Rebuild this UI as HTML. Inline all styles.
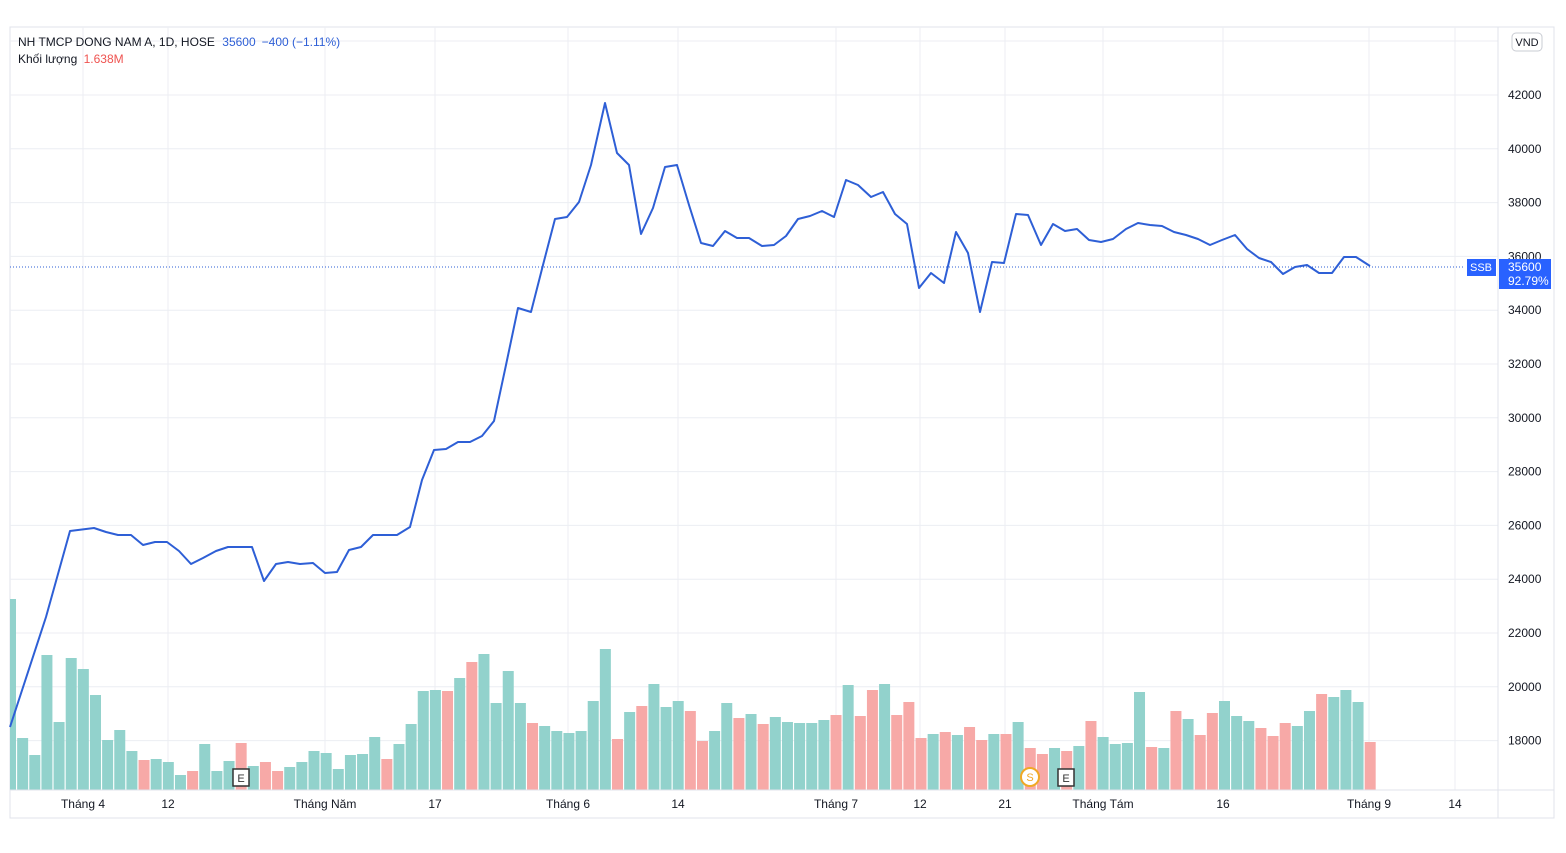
<!DOCTYPE html>
<html><head><meta charset="utf-8"><style>
html,body{margin:0;padding:0;background:#fff;width:1566px;height:853px;overflow:hidden}
svg{display:block}
text{font-family:"Liberation Sans",sans-serif}
</style></head><body>
<svg id="s" width="1566" height="853" xmlns="http://www.w3.org/2000/svg">
<rect x="10" y="27" width="1544" height="791" fill="#fff" stroke="#e0e3eb"/>
<g id="grid" stroke="#eceef3" stroke-width="1"></g>
<g id="vol"></g>
<line x1="10" y1="267" x2="1465" y2="267" stroke="#2e5fd6" stroke-dasharray="1,2" stroke-width="1"/>
<polyline id="ln" fill="none" stroke="#2e5fd6" stroke-width="2" stroke-linejoin="round"/>
<line x1="10" y1="790" x2="1554" y2="790" stroke="#e0e3eb"/>
<line x1="1498" y1="27" x2="1498" y2="818" stroke="#e0e3eb"/>
<g id="ylab" font-size="12" fill="#131722"></g>
<g id="xlab" font-size="12" fill="#131722" text-anchor="middle"></g>
<rect x="1512" y="33" width="30" height="18" rx="4" fill="#fff" stroke="#c9ccd3"/>
<text x="1527" y="46" font-size="11" text-anchor="middle" fill="#131722">VND</text>
<rect x="1467" y="259" width="29" height="17" fill="#2962ff"/>
<text x="1481" y="271" font-size="11" text-anchor="middle" fill="#fff">SSB</text>
<rect x="1499" y="259" width="52" height="30" fill="#2962ff"/>
<text x="1508" y="271" font-size="12" fill="#fff">35600</text>
<text x="1508" y="285" font-size="12" fill="#fff">92.79%</text>
<text x="18" y="46" font-size="12" fill="#131722">NH TMCP DONG NAM A, 1D, HOSE <tspan fill="#2e5fd6" dx="4">35600</tspan><tspan fill="#2e5fd6" dx="6">−400 (−1.11%)</tspan></text>
<text x="18" y="63" font-size="12" fill="#131722">Khối lượng <tspan fill="#ef5350" dx="3">1.638M</tspan></text>
<rect x="233" y="769" width="16" height="17" fill="#fff" stroke="#333" stroke-width="1.5"/>
<text x="241" y="782" font-size="11" text-anchor="middle" fill="#333">E</text>
<rect x="1058" y="769" width="16" height="17" fill="#fff" stroke="#333" stroke-width="1.5"/>
<text x="1066" y="782" font-size="11" text-anchor="middle" fill="#333">E</text>
<circle cx="1030" cy="777" r="9" fill="#fff" stroke="#f0a825" stroke-width="2"/>
<text x="1030" y="781" font-size="11" text-anchor="middle" fill="#f0a825">S</text>
</svg>
<script>
const NS="http://www.w3.org/2000/svg";
function el(p,t,a,txt){const e=document.createElementNS(NS,t);for(const k in a)e.setAttribute(k,a[k]);if(txt)e.textContent=txt;document.getElementById(p).appendChild(e);}
const Y=p=>95+(42000-p)*0.0269;
for(let p=18000;p<=42000;p+=2000){el("grid","line",{x1:10,x2:1498,y1:Y(p),y2:Y(p)});el("ylab","text",{x:1508,y:Y(p)+4},String(p));}
el("grid","line",{x1:10,x2:1498,y1:41,y2:41});
const xs=[[83,"Tháng 4"],[168,"12"],[325,"Tháng Năm"],[435,"17"],[568,"Tháng 6"],[678,"14"],[836,"Tháng 7"],[920,"12"],[1005,"21"],[1103,"Tháng Tám"],[1223,"16"],[1369,"Tháng 9"],[1455,"14"]];
xs.forEach(([x,t])=>{el("grid","line",{x1:x,x2:x,y1:27,y2:790});el("xlab","text",{x:x,y:808},t);});
const v="599g 738g 755g 655g 722g 658g 669g 695g 740g 730g 751g 760r 759g 762g 775g 771r 744g 771g 761g 743r 766g 762r 771r 767g 762g 751g 753g 769g 755g 754g 737g 759r 744g 724g 691g 690g 691r 678g 662r 654g 703g 671g 703g 723r 726g 731g 733g 731g 701g 649g 739r 712g 706r 684g 707g 701g 711r 741r 731g 703g 718r 714g 724r 717g 722g 723g 723g 720g 715r 685g 716r 690r 684g 715r 702r 738r 734g 732r 735g 727r 740r 734g 734r 722g 748r 754r 748g 751r 746g 721r 737g 744g 743g 692g 747r 748g 711r 719g 735r 713r 701g 716g 721g 728r 736r 723r 726g 711g 694r 697g 690g 702g 742r".split(" ");
v.forEach((s,i)=>{const c=10.5+i*12.14,t=parseFloat(s),col=s.endsWith("r")?"#f7a9a7":"#92d2cc";let x=c-5.5,w=11;if(x<10){w-=10-x;x=10;}el("vol","rect",{x:x,y:t,width:w,height:790-t,fill:col});});
const pts="10,727 46,617 70,531 94,528 106,532 118,535 131,535 143,545 155,542 167,542 179,551 191,564 203,558 216,551 228,547 240,547 252,547 264,581 276,564 288,562 300,564 313,563 325,573 337,572 349,550 361,547 373,535 385,535 397,535 410,527 422,480 434,450 446,449 458,442 470,442 482,436 494,421 506,365 518,308 531,312 543,265 555,219 567,217 579,202 591,165 605,103 617,153 629,165 641,234 653,208 665,167 677,165 689,205 701,243 713,246 725,231 737,238 749,238 762,246 774,245 786,236 798,219 810,216 822,211 834,217 846,180 858,185 871,197 883,192 895,214 907,224 919,288 931,273 944,283 956,232 968,253 980,312 992,262 1004,263 1016,214 1028,215 1041,245 1053,224 1065,231 1077,229 1089,240 1101,242 1113,239 1126,229 1138,223 1150,225 1162,226 1174,232 1186,235 1198,239 1210,245 1222,240 1235,235 1247,249 1259,258 1271,262 1283,274 1295,267 1307,265 1319,273 1332,273 1344,257 1356,257 1370,266";
document.getElementById("ln").setAttribute("points",pts);
</script>
</body></html>
